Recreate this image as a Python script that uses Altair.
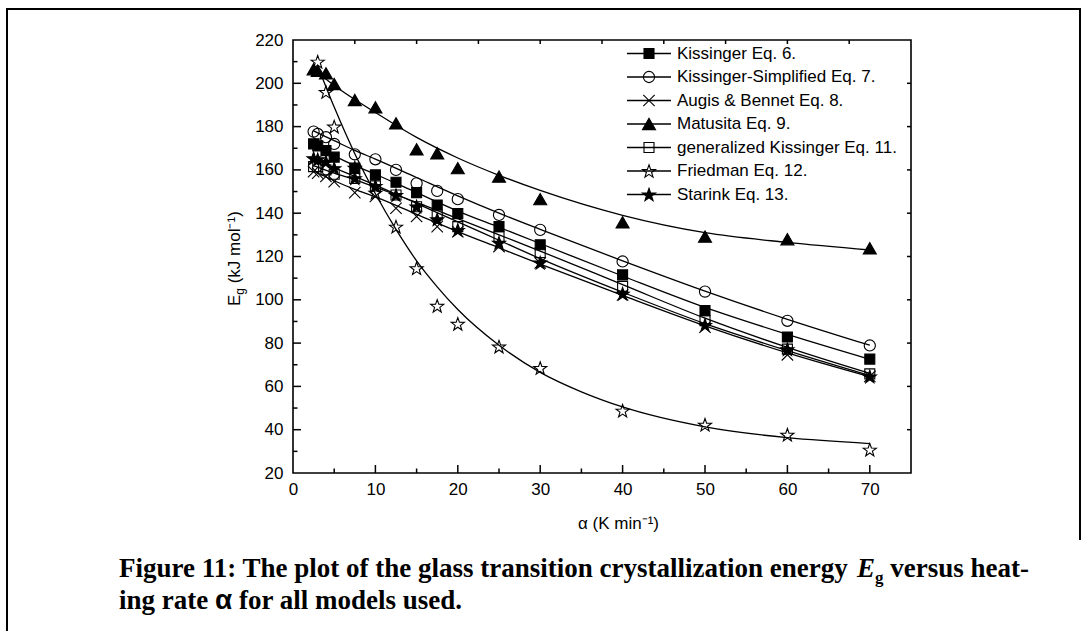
import altair as alt
import pandas as pd

# Heating rates (K/min) and activation energies (kJ/mol) for each model
rates = [2.5, 3, 4, 5, 7.5, 10, 12.5, 15, 17.5, 20, 25, 30, 40, 50, 60, 70]
kissinger = [172, 171.1, 168.9, 165.9, 160.8, 157.7, 154.3, 149.5, 143.8, 139.8, 133.8, 125.4, 111.5, 95, 82.8, 72.6]
kissinger_simpl = [177.7, 176.6, 175.1, 172, 167.2, 164.9, 160, 153.8, 150.3, 146.5, 139.2, 132.3, 117.7, 103.8, 90.3, 78.9]
augis = [159.2, 158.5, 157, 154.6, 149.5, 147.7, 142.3, 138.5, 133.8, 131.5, 124.6, 117, 102.3, 87.4, 74.6, 64.6]
matusita = [206.5, 205.8, 204.6, 199.7, 192.3, 188.9, 181.5, 169.5, 167.7, 160.8, 156.9, 146.5, 135.8, 129.2, 128, 123.8]
gen_kissinger = [161.5, 161.5, 160, 158, 156, 152.6, 148.4, 143, 139.2, 133.8, 129.2, 121.8, 106.2, 90.4, 77.2, 65.8]
friedman_rates = [3, 4, 5, 7.5, 10, 12.5, 15, 17.5, 20, 25, 30, 40, 50, 60, 70]
friedman = [210, 196, 180, 161, 149.5, 133.8, 114.6, 97.2, 88.9, 78.4, 68.5, 48.8, 42.3, 37.7, 30.8]
starink = [165.4, 164.9, 163.8, 160.8, 156.2, 152.6, 148.4, 143.1, 137.2, 132.3, 126.4, 117.2, 102.8, 88.4, 77.2, 64.6]

# Fitted curves drawn through each model's points
fit_rates = [2.5, 5, 7.5, 10, 15, 20, 25, 30, 40, 50, 60, 70]
fit_kissinger = [171.5, 166.5, 162, 158, 149.5, 141, 133.5, 126, 111, 96.5, 84, 72.5]
fit_kissinger_simpl = [178, 173.5, 169, 165, 156.5, 148, 140, 132.5, 118, 104, 91, 79]
fit_augis = [159.5, 155, 151, 147.5, 139.5, 131.5, 124, 116.5, 102, 88, 75.5, 64.5]
fit_matusita = [206.5, 199, 192.5, 186.5, 175, 165.5, 157.5, 150.5, 139, 131, 126.5, 123]
fit_gen_kissinger = [162, 158.5, 155.5, 152, 145, 137.5, 130, 122.5, 107, 91.5, 78, 66]
fit_starink = [165, 161, 157, 153, 144.5, 136, 127.5, 119, 103.5, 89, 76.5, 65]
fit_friedman_rates = [3, 5, 7.5, 10, 12.5, 15, 17.5, 20, 25, 30, 35, 40, 50, 60, 70]
fit_friedman = [208, 189, 167.5, 149, 132.5, 118, 106, 95.5, 79, 66.5, 57.5, 50.5, 41.3, 36.3, 33.6]

labels = [
    "Kissinger Eq. 6.",
    "Kissinger-Simplified Eq. 7.",
    "Augis & Bennet Eq. 8.",
    "Matusita Eq. 9.",
    "generalized Kissinger Eq. 11.",
    "Friedman Eq. 12.",
    "Starink Eq. 13.",
]

STAR = ("M0,-0.9L0.2351,-0.2281L0.9511,-0.2135L0.3804,0.2191L0.5878,0.9045"
        "L0,0.4955L-0.5878,0.9045L-0.3804,0.2191L-0.9511,-0.2135L-0.2351,-0.2281Z")
XMARK = "M-1,-1L1,1M-1,1L1,-1"

# marker style per model: shape, fill, size
styles = {
    labels[0]: ("square", "black", 100),
    labels[1]: ("circle", "transparent", 125),
    labels[2]: (XMARK, "transparent", 130),
    labels[3]: ("triangle-up", "black", 170),
    labels[4]: ("square", "transparent", 100),
    labels[5]: (STAR, "transparent", 190),
    labels[6]: (STAR, "black", 190),
}

series = [
    (labels[0], rates, kissinger, fit_rates, fit_kissinger),
    (labels[1], rates, kissinger_simpl, fit_rates, fit_kissinger_simpl),
    (labels[2], rates, augis, fit_rates, fit_augis),
    (labels[3], rates, matusita, fit_rates, fit_matusita),
    (labels[4], rates, gen_kissinger, fit_rates, fit_gen_kissinger),
    (labels[5], friedman_rates, friedman, fit_friedman_rates, fit_friedman),
    (labels[6], rates, starink, fit_rates, fit_starink),
]

pts_rows, fit_rows = [], []
for name, xs, ys, fx, fy in series:
    shp, fil, sz = styles[name]
    for x, y in zip(xs, ys):
        pts_rows.append({"series": name, "x": x, "y": y, "shape": shp, "fill": fil, "size": sz})
    for x, y in zip(fx, fy):
        fit_rows.append({"series": name, "x": x, "y": y})
points_df = pd.DataFrame(pts_rows)
fits_df = pd.DataFrame(fit_rows)

W, H = 618, 433
FONT = "Liberation Sans"
SERIF = "Liberation Serif"

x_scale = alt.Scale(domain=[0, 75], nice=False, zero=False)
y_scale = alt.Scale(domain=[20, 220], nice=False, zero=False)
x_axis = alt.Axis(values=list(range(0, 71, 10)), title=None, labelPadding=8, tickSize=0,
                  labelFlush=False, labelOverlap=False)
y_axis = alt.Axis(values=list(range(20, 221, 20)), title=None, labelPadding=10, tickSize=0,
                  labelFlush=False, labelOverlap=False)
X = alt.X("x:Q", scale=x_scale, axis=x_axis)
Y = alt.Y("y:Q", scale=y_scale, axis=y_axis)

lines = alt.Chart(fits_df).mark_line(color="black", strokeWidth=1.3, interpolate="monotone").encode(
    x=X, y=Y, detail="series:N")

points = alt.Chart(points_df).mark_point(filled=True, stroke="black", strokeWidth=1.1, opacity=1).encode(
    x=X, y=Y,
    shape=alt.Shape("shape:N", scale=None),
    fill=alt.Fill("fill:N", scale=None),
    size=alt.Size("size:Q", scale=None),
)

# inward tick marks on all four sides
def xticks(vals, y0, y1):
    return alt.Chart(pd.DataFrame({"x": vals})).mark_rule(color="black", strokeWidth=1.5).encode(
        x=X, y=alt.value(y0), y2=alt.value(y1))

def yticks(vals, x0, x1):
    return alt.Chart(pd.DataFrame({"y": vals})).mark_rule(color="black", strokeWidth=1.5).encode(
        y=Y, x=alt.value(x0), x2=alt.value(x1))

ticks = [
    xticks(list(range(10, 71, 10)), H, H - 8),
    xticks(list(range(5, 70, 10)), H, H - 4.5),
    xticks([7.5 * k for k in range(1, 10)], 0, 4),
    yticks(list(range(40, 220, 20)), 0, 8),
    yticks(list(range(30, 220, 20)), 0, 4.5),
    yticks(list(range(40, 220, 20)), W, W - 4),
]

# legend in the upper right of the plot
leg_df = pd.DataFrame({
    "label": labels,
    "ypx": [13.5 + 23.5 * i for i in range(len(labels))],
    "shape": [styles[l][0] for l in labels],
    "fill": [styles[l][1] for l in labels],
    "size": [styles[l][2] for l in labels],
})
LY = alt.Y("ypx:Q", scale=None)
leg_lines = alt.Chart(leg_df).mark_rule(color="black", strokeWidth=1.3).encode(
    x=alt.value(334), x2=alt.value(378), y=LY)
leg_pts = alt.Chart(leg_df).mark_point(filled=True, stroke="black", strokeWidth=1.1, opacity=1).encode(
    x=alt.value(356), y=LY,
    shape=alt.Shape("shape:N", scale=None),
    fill=alt.Fill("fill:N", scale=None),
    size=alt.Size("size:Q", scale=None),
)
leg_txt = alt.Chart(leg_df).mark_text(align="left", baseline="middle", font=FONT, fontSize=17,
                                      color="black").encode(
    x=alt.value(384), y=LY, text="label:N")

# axis titles
def text_layer(rows, **kw):
    df = pd.DataFrame(rows, columns=["text", "px", "py"])
    return alt.Chart(df).mark_text(color="black", **kw).encode(
        x=alt.X("px:Q", scale=None), y=alt.Y("py:Q", scale=None), text="text:N")

x_title = text_layer([["α (K min⁻¹)", 285, 489]], align="left", baseline="alphabetic",
                     font=FONT, fontSize=17)
ybase, ystart = -53, 266
y_title_big = text_layer([["E", ybase, ystart], ["(kJ mol⁻¹)", ybase, ystart - 11.3 - 6.7 - 4.7]],
                         angle=270, align="left", baseline="alphabetic", font=FONT, fontSize=17)
y_title_sub = text_layer([["g", ybase + 4, ystart - 11.3]],
                         angle=270, align="left", baseline="alphabetic", font=FONT, fontSize=12)

# figure caption (two lines, bold serif)
cx, l1, l2, cfs = -174, 537, 569, 27
sp = 0.25 * cfs
pre1 = "Figure 11: The plot of the glass transition crystallization energy"
w_pre1 = 27.08 * cfs
e_x = cx + w_pre1 + sp
g_x = e_x + 0.667 * cfs
v_x = g_x + 0.5 * 17 + sp
a_x = cx + 3.305 * cfs + sp
f_x = a_x + 0.62 * 28 + sp
cap_main = text_layer([[pre1, cx, l1],
                       ["versus heat-", v_x, l1],
                       ["ing rate", cx, l2],
                       ["for all models used.", f_x, l2]],
                      align="left", baseline="alphabetic", font=SERIF, fontSize=cfs, fontWeight="bold")
cap_E = text_layer([["E", e_x, l1]], align="left", baseline="alphabetic", font=SERIF,
                   fontSize=cfs, fontWeight="bold", fontStyle="italic")
cap_g = text_layer([["g", g_x, l1 + 6]], align="left", baseline="alphabetic",
                   font=SERIF, fontSize=17, fontWeight="bold")
cap_alpha = text_layer([["α", a_x, l2]], align="left", baseline="alphabetic",
                       font=FONT, fontSize=28, fontWeight="bold")

# outer frame around the figure: left, top and right edges
frame = alt.Chart(pd.DataFrame({"k": [0]}))
border = [
    frame.mark_rule(color="black", strokeWidth=2).encode(
        x=alt.value(-286), y=alt.value(-31), y2=alt.value(600)),
    frame.mark_rule(color="black", strokeWidth=2).encode(
        x=alt.value(-287), x2=alt.value(788), y=alt.value(-31)),
    frame.mark_rule(color="black", strokeWidth=2).encode(
        x=alt.value(787), y=alt.value(-32), y2=alt.value(500)),
]

chart = alt.layer(
    *border, lines, points, *ticks, leg_lines, leg_pts, leg_txt,
    x_title, y_title_big, y_title_sub, cap_main, cap_E, cap_g, cap_alpha,
).properties(
    width=W, height=H,
    autosize=alt.AutoSizeParams(type="none"),
    padding={"left": 293, "top": 40, "right": 175, "bottom": 158},
).configure_view(
    stroke="black", strokeWidth=1.6
).configure_axis(
    grid=False, ticks=False, domain=False, labelFont=FONT, labelFontSize=17, labelColor="black"
)

chart.save("out.html", embed_options={"renderer": "svg", "actions": False})
